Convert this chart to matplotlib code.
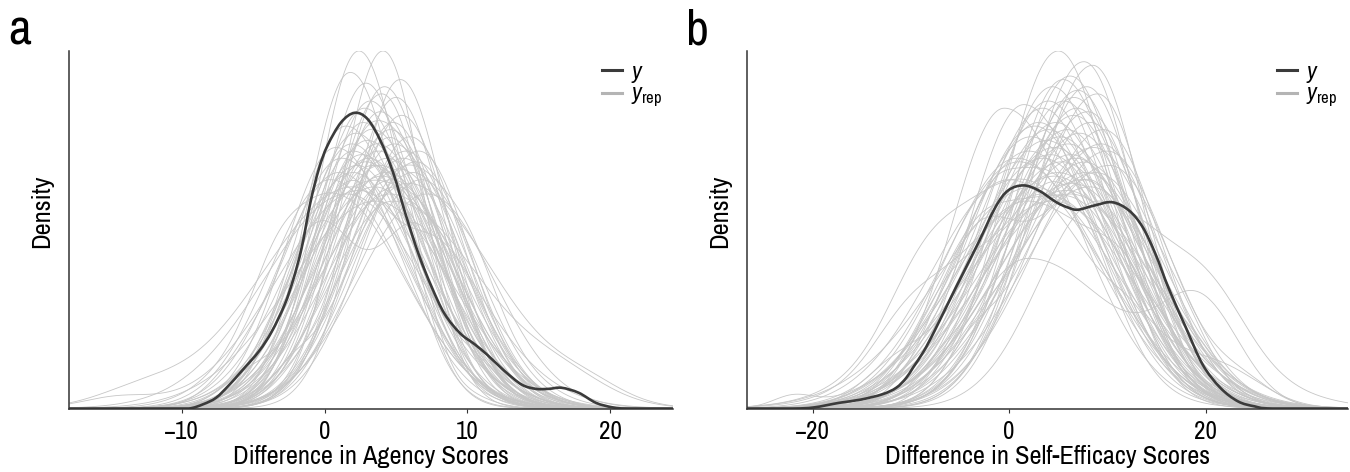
import numpy as np
import matplotlib
matplotlib.use("Agg")
import matplotlib.pyplot as plt
from matplotlib.path import Path
from matplotlib.patches import PathPatch
from matplotlib.lines import Line2D

FONT = 'Archivo Narrow'
plt.rcParams['font.family'] = [FONT, 'DejaVu Sans']
plt.rcParams['mathtext.fontset'] = 'custom'
plt.rcParams['mathtext.rm'] = FONT
plt.rcParams['mathtext.it'] = FONT + ':italic'

DARK = '#3b3b3b'
GRAY = '#c6c6c6'

agency_x = [-17.9, -11.0, -9.5, -8.5, -7.6, -6.7, -5.8, -4.6, -3.7, -2.8, -2.2, -1.6,
            -1.0, -0.4, 0.2, 1.15, 2.1, 3.0, 3.9, 4.8, 5.7, 6.6, 7.5, 8.4, 9.5, 10.5,
            11.4, 12.6, 13.8, 14.8, 15.7, 16.6, 17.8, 19.0, 20.2, 21.2, 24.4]
agency_y = [0.0, 0.0, 0.0, 0.012, 0.03, 0.065, 0.105, 0.16, 0.215, 0.29, 0.36, 0.45,
            0.575, 0.67, 0.735, 0.80, 0.827, 0.81, 0.75, 0.66, 0.54, 0.43, 0.34, 0.265,
            0.21, 0.18, 0.15, 0.105, 0.067, 0.055, 0.055, 0.058, 0.044, 0.016, 0.003,
            0.0, 0.0]

# replicated densities: (centre, peak, left spread, right spread)
agency_rep = [
    (2.4, 1.00, 2.9, 3.1), (4.1, 1.00, 3.0, 2.8), (1.8, 0.94, 3.0, 3.4),
    (4.2, 0.90, 3.2, 3.3), (4.0, 0.88, 3.5, 3.2), (3.2, 0.86, 3.4, 3.6),
    (5.0, 0.87, 3.4, 3.4), (2.8, 0.84, 3.6, 3.8), (5.4, 0.82, 3.6, 3.5),
    (3.6, 0.80, 3.5, 4.0), (1.5, 0.79, 3.5, 4.2), (4.6, 0.78, 3.8, 3.9),
    (2.2, 0.77, 3.8, 4.0), (6.0, 0.76, 3.8, 3.7), (3.0, 0.75, 3.9, 4.3),
    (4.9, 0.74, 4.0, 4.0), (0.8, 0.73, 3.6, 4.4), (3.8, 0.72, 4.2, 4.1),
    (5.7, 0.72, 4.0, 3.8), (2.6, 0.71, 4.1, 4.5), (4.4, 0.70, 4.3, 4.2),
    (1.2, 0.70, 3.9, 4.6), (6.4, 0.69, 4.2, 3.9), (3.4, 0.68, 4.4, 4.6),
    (5.2, 0.67, 4.4, 4.5), (2.0, 0.66, 4.5, 4.5), (4.0, 0.65, 4.6, 4.8),
    (6.8, 0.64, 4.5, 4.0), (0.4, 0.64, 4.2, 5.0), (3.0, 0.63, 4.8, 4.8),
    (5.0, 0.62, 4.8, 4.6), (2.4, 0.61, 5.6, 5.1), (4.6, 0.60, 5.0, 5.6),
    (3.6, 0.58, 6.0, 5.3), (1.6, 0.60, 5.8, 5.2), (5.8, 0.63, 4.6, 6.0),
    (7.2, 0.60, 4.8, 4.6), (3.9, 0.83, 3.4, 3.7), (2.9, 0.69, 4.3, 4.4),
    (4.3, 0.66, 4.5, 4.7), (-0.5, 0.50, 2.7, 2.7), (1.5, 0.60, 3.0, 3.0),
    (2.0, 0.62, 6.4, 4.2), (4.8, 0.58, 4.4, 6.2),
    (3.3, 0.78, 3.6, 3.9), (4.8, 0.80, 3.3, 3.6), (2.0, 0.72, 3.6, 4.4),
    (5.5, 0.70, 4.0, 4.2), (3.7, 0.74, 3.8, 4.0), (1.0, 0.66, 4.2, 4.8),
    (6.2, 0.66, 4.4, 4.0), (2.7, 0.80, 3.4, 3.6), (4.5, 0.76, 3.7, 3.8),
    (3.1, 0.70, 4.2, 4.2), (5.9, 0.68, 4.1, 4.6), (2.3, 0.68, 4.3, 4.1),
    (4.7, 0.64, 4.7, 4.5), (3.5, 0.62, 5.0, 4.9), (1.9, 0.74, 3.7, 4.1),
    (6.6, 0.72, 4.0, 3.6), (0.6, 0.60, 4.6, 5.0), (5.3, 0.92, 3.1, 3.2),
    (2.9, 0.91, 3.2, 3.3), (3.9, 0.68, 4.4, 4.3),
]
# extra bumps on some replicated curves: (curve index, centre, height, spread)
agency_bumps = [
    (40, 6.5, 0.50, 2.8), (41, 8.3, 0.42, 3.0), (42, -13.0, 0.04, 3.0),
    (43, 17.0, 0.05, 3.0), (31, -14.5, 0.03, 2.5), (35, 18.5, 0.04, 2.5),
    (44, 8.0, 0.08, 1.6), (46, -4.0, 0.06, 1.5), (48, 9.5, 0.07, 1.8),
    (50, -2.5, 0.05, 1.4), (52, 0.5, -0.06, 1.5), (54, 10.5, 0.06, 1.6),
    (56, -5.5, 0.05, 1.8), (58, 7.5, 0.08, 1.5), (60, -3.5, 0.07, 1.6),
    (62, 8.5, -0.05, 1.4), (9, 7.0, 0.06, 1.5), (21, -6.0, 0.05, 2.0),
    (25, 11.0, 0.05, 1.8), (29, 6.5, 0.07, 1.6),
]

# ---- panel b
efficacy_x = [-26.7, -22.0, -19.9, -17.3, -15.1, -12.9, -11.5, -10.5, -9.8, -8.7, -7.6,
              -5.4, -3.2, -1.4, -0.1, 1.45, 3.0, 4.8, 6.0, 7.0, 8.7, 10.5, 12.2, 13.6,
              14.9, 16.2, 18.0, 19.7, 21.5, 23.3, 25.0, 26.8, 34.5]
efficacy_y = [0.0, 0.0, 0.003, 0.016, 0.025, 0.04, 0.058, 0.085, 0.114, 0.16, 0.217,
              0.34, 0.46, 0.563, 0.61, 0.624, 0.61, 0.577, 0.562, 0.556, 0.568, 0.577,
              0.554, 0.507, 0.432, 0.339, 0.226, 0.123, 0.058, 0.02, 0.006, 0.0, 0.0]

efficacy_rep = [
    (5.0, 1.00, 5.6, 5.4), (7.6, 0.97, 5.8, 5.2), (8.5, 0.96, 6.0, 5.0),
    (6.2, 0.93, 5.8, 5.6), (4.4, 0.90, 6.0, 6.0), (7.0, 0.89, 6.2, 5.6),
    (9.0, 0.88, 6.6, 5.2), (1.5, 0.85, 5.6, 7.0), (-0.5, 0.84, 5.4, 7.6),
    (5.6, 0.86, 6.4, 6.0), (3.4, 0.84, 6.4, 6.4), (8.0, 0.83, 6.8, 5.8),
    (6.6, 0.82, 6.8, 6.2), (4.8, 0.80, 7.0, 6.4), (2.6, 0.79, 6.8, 6.8),
    (9.6, 0.78, 7.2, 5.8), (7.2, 0.77, 7.2, 6.4), (5.2, 0.76, 7.4, 6.8),
    (3.8, 0.75, 7.4, 7.0), (6.0, 0.74, 7.6, 6.8), (8.6, 0.73, 7.8, 6.4),
    (2.0, 0.72, 7.4, 7.6), (4.2, 0.71, 7.8, 7.2), (6.8, 0.70, 8.0, 7.0),
    (0.8, 0.70, 7.2, 8.0), (5.4, 0.69, 8.2, 7.4), (10.2, 0.68, 8.4, 6.4),
    (3.0, 0.67, 8.2, 7.8), (7.8, 0.66, 8.6, 7.2), (4.6, 0.65, 8.6, 8.0),
    (1.2, 0.64, 9.0, 8.6), (6.4, 0.63, 8.8, 7.8), (2.4, 0.62, 9.4, 8.6),
    (8.8, 0.66, 8.4, 7.0), (5.8, 0.61, 9.0, 8.2), (3.6, 0.60, 9.6, 8.8),
    (7.4, 0.64, 8.4, 7.6), (4.0, 0.78, 6.8, 7.0), (6.6, 0.87, 6.0, 6.0),
    (2.0, 0.42, 6.0, 9.0), (-3.0, 0.48, 4.5, 4.5), (9.0, 0.58, 6.0, 9.5),
    (5.5, 0.92, 5.6, 5.8), (7.9, 0.90, 6.0, 5.4), (4.0, 0.86, 6.2, 6.2),
    (6.9, 0.84, 6.4, 5.8), (3.0, 0.80, 6.6, 6.8), (8.3, 0.80, 6.8, 5.8),
    (5.9, 0.78, 7.0, 6.6), (2.2, 0.76, 7.0, 7.4), (9.4, 0.74, 7.4, 6.0),
    (4.6, 0.73, 7.6, 7.2), (6.3, 0.71, 7.8, 7.2), (1.0, 0.69, 7.6, 8.2),
    (7.6, 0.69, 8.0, 7.0), (3.4, 0.70, 7.8, 7.8), (5.0, 0.66, 8.4, 7.8),
    (8.2, 0.62, 8.6, 7.4), (0.0, 0.64, 7.8, 8.8), (6.2, 0.60, 9.0, 8.4),
    (4.4, 0.58, 9.2, 9.0), (10.0, 0.72, 7.6, 6.2),
    (-1.5, 0.55, 6.0, 8.0), (-4.0, 0.40, 5.0, 9.0), (1.8, 0.58, 7.8, 9.0),
]
efficacy_bumps = [
    (39, 19.5, 0.26, 4.0), (40, 8.5, 0.62, 5.0), (30, -9.0, 0.12, 3.5),
    (35, -10.5, 0.10, 3.5), (41, 21.0, 0.10, 3.5), (32, 22.0, 0.08, 4.0),
    (42, -6.0, 0.07, 2.5), (44, 14.0, 0.08, 2.5), (46, -9.0, 0.07, 2.5),
    (48, 16.0, 0.07, 2.2), (50, -4.0, 0.08, 2.4), (52, 19.0, 0.06, 2.6),
    (54, 1.0, -0.06, 2.2), (56, -12.0, 0.06, 3.0), (58, 13.0, 0.07, 2.3),
    (60, -22.0, 0.03, 2.0), (61, 24.0, 0.05, 3.0), (12, -7.0, 0.06, 2.5),
    (20, 18.0, 0.06, 2.5), (27, -2.0, 0.07, 2.0),
    (62, 9.0, 0.30, 4.5), (63, 6.0, 0.40, 4.5), (64, 12.0, 0.12, 3.0),
]


def split_bump(x, c, h, sl, sr):
    s = np.where(x < c, sl, sr)
    return h * np.exp(-0.5 * ((x - c) / s) ** 2)


def smooth_path(xs, ys):
    # Catmull-Rom through the read points, drawn as cubic Bezier segments
    p = np.column_stack([xs, ys])
    verts = [p[0]]
    codes = [Path.MOVETO]
    n = len(p)
    for i in range(n - 1):
        p0 = p[max(i - 1, 0)]
        p1 = p[i]
        p2 = p[i + 1]
        p3 = p[min(i + 2, n - 1)]
        c1 = p1 + (p2 - p0) / 6.0
        c2 = p2 - (p3 - p1) / 6.0
        c1[1] = max(c1[1], 0.0)
        c2[1] = max(c2[1], 0.0)
        verts += [c1, c2, p2]
        codes += [Path.CURVE4] * 3
    return Path(verts, codes)


def draw_panel(ax, obs_x, obs_y, reps, bumps, xlim, xticks, xlabel):
    grid = np.linspace(xlim[0], xlim[1], 600)
    curves = [split_bump(grid, *r) for r in reps]
    for i, c, h, s in bumps:
        curves[i] = curves[i] + h * np.exp(-0.5 * ((grid - c) / s) ** 2)
    top = 0
    for cv in curves:
        ax.plot(grid, cv, color=GRAY, lw=0.6, zorder=1)
        top = max(top, cv.max())
    ax.add_patch(PathPatch(smooth_path(obs_x, obs_y), fill=False, edgecolor=DARK,
                           lw=1.9, zorder=3, capstyle='butt'))
    ax.set_xlim(*xlim)
    ax.set_ylim(0, top)
    ax.set_xticks(xticks)
    ax.set_xticklabels(['\u2212%d' % -t if t < 0 else '%d' % t for t in xticks])
    ax.set_yticks([])
    ax.set_xlabel(xlabel, fontsize=19, labelpad=1.5)
    ax.set_ylabel('Density', fontsize=19)
    ax.yaxis.set_label_coords(-0.027, 0.552)
    for side in ['top', 'right']:
        ax.spines[side].set_visible(False)
    for side in ['left', 'bottom']:
        ax.spines[side].set_color('#333333')
        ax.spines[side].set_linewidth(1.1)
        ax.spines[side].set_zorder(4)
    ax.tick_params(axis='x', length=3, width=0.8, color='#333333', labelsize=18, pad=5.5)
    handles = [Line2D([], [], color=DARK, lw=2.2), Line2D([], [], color='#b4b4b4', lw=2.2)]
    ax.legend(handles, ['$y$', r'$y_{\mathrm{rep}}$'], loc='upper right',
              bbox_to_anchor=(1.005, 1.01), frameon=False, fontsize=17,
              handlelength=0.85, handletextpad=0.35, labelspacing=0.0, borderaxespad=0.2)


fig = plt.figure(figsize=(13.5, 4.72), dpi=100)
ax_a = fig.add_axes([0.0511, 0.1345, 0.4474, 0.7575])
ax_b = fig.add_axes([0.5533, 0.1345, 0.4452, 0.7575])

draw_panel(ax_a, agency_x, agency_y, agency_rep, agency_bumps, (-17.9, 24.4),
           [-10, 0, 10, 20], 'Difference in Agency Scores')
draw_panel(ax_b, efficacy_x, efficacy_y, efficacy_rep, efficacy_bumps, (-26.7, 34.5),
           [-20, 0, 20], 'Difference in Self-Efficacy Scores')

fig.text(0.006, 0.905, 'a', fontsize=36, va='baseline')
fig.text(0.508, 0.905, 'b', fontsize=36, va='baseline')

fig.savefig('out.png', dpi=100)
